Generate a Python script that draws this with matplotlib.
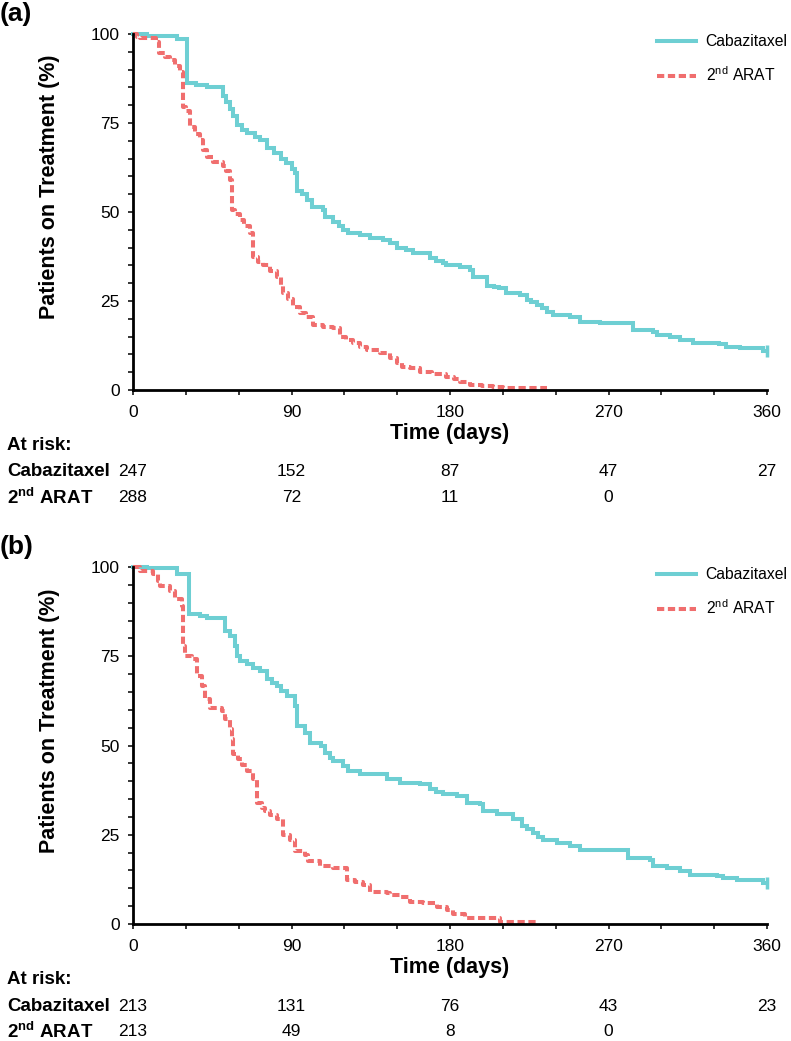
import matplotlib.pyplot as plt
import numpy as np
from matplotlib.ticker import MultipleLocator
import matplotlib.transforms as mtransforms

plt.rcParams['font.family'] = ['Liberation Sans', 'DejaVu Sans']
plt.rcParams['mathtext.fontset'] = 'custom'
plt.rcParams['mathtext.rm'] = 'Liberation Sans'
plt.rcParams['mathtext.bf'] = 'Liberation Sans:bold'

# ---- Panel (a): step points (day, % on treatment)
a_cab_t = [0, 8, 25, 30.5, 36, 42, 51, 53, 55, 57, 59, 62, 65, 69, 72, 76, 80, 84, 87, 90, 92, 93,
           96, 98.6, 101.5, 108, 109, 113.8, 117, 119.4, 122, 129, 134.6, 142, 146, 150, 155, 159,
           168.7, 172, 176, 178, 185.7, 191.4, 193.3, 201, 205, 208, 212, 219.8, 223.6, 226, 229.3,
           232, 235, 238.7, 248, 254, 265, 284, 295.5, 297.4, 305, 310.6, 318, 333, 337, 344.7,
           358, 360]
a_cab_s = [100, 99.5, 98.6, 86.2, 85.6, 85.0, 82.5, 81, 79, 77, 74.5, 73, 72.2, 71.2, 70.2, 68, 66.5,
           65, 63.7, 62, 61, 56, 55, 53.4, 51.4, 50.6, 48.6, 47.2, 46, 45, 44.1, 43.5, 42.7, 42.1,
           41.3, 40, 39.3, 38.4, 37, 36.3, 35.6, 35.1, 34.6, 33.7, 31.8, 29.3, 28.8, 28.6, 27.2,
           26.7, 25.3, 24.6, 23.9, 23, 22, 21.1, 20.6, 19.2, 18.9, 16.9, 16.4, 15.4, 15, 14, 13.1,
           12.9, 12.2, 11.7, 11, 11]
a_arat_t = [0, 2, 4, 13, 15, 18, 21, 24, 26.7, 28.6, 30, 32.4, 35, 38, 40, 41.8, 45.6, 51, 53, 55, 56,
            58, 60.8, 63, 66.4, 68.3, 71, 74, 78, 81.6, 84, 85.4, 88, 91, 94.8, 98, 102.4, 108,
            113.8, 117.5, 121, 125, 129, 132.7, 140, 146, 149.7, 153, 157.3, 163, 170, 178, 182,
            185.7, 191.4, 198, 204.6, 210, 235]
a_arat_s = [100, 99.2, 98.8, 97.8, 94.6, 93.5, 92.7, 91, 89.4, 79.6, 78.5, 74, 72, 70.2, 67.5, 65.5,
            64.1, 63, 61.5, 59, 50.6, 49.5, 47.8, 46, 44, 37.4, 36, 35.1, 33.5, 31.8, 29.5, 27.2,
            25.5, 23.4, 21.5, 20.5, 18.3, 17.6, 17.3, 15, 14, 13.1, 12, 11.2, 10.3, 8.9, 7.5, 6.6,
            6.1, 5.1, 4.6, 3.7, 3, 2.3, 1.4, 1.1, 0.9, 0.5, 0.5]

# ---- Panel (b)
b_cab_t = [0, 8, 25, 31.6, 38, 42, 52, 55, 58, 59, 61, 64.6, 68, 72, 76, 79, 81.6, 84, 87.3, 92, 93,
           97.7, 100.5, 107, 109, 112, 113.8, 119.4, 122.3, 129, 144, 151.6, 163, 168.7, 172, 176,
           183.8, 189.5, 197, 199, 206.6, 216, 220.8, 224, 227.4, 230, 233, 240.6, 248, 254, 281,
           293.6, 295.5, 303, 310.6, 316.3, 331.4, 335.2, 342.8, 358, 360]
b_cab_s = [100, 99.6, 98.0, 86.7, 86.3, 85.6, 82.1, 80.7, 77.8, 75, 73.6, 72.7, 71.8, 70.8, 68.5,
           67.5, 66.6, 65.3, 63.8, 61, 55.4, 53.6, 50.8, 49.8, 48, 46.5, 45.6, 44.2, 42.8, 41.9,
           40.5, 39.5, 39.1, 37.7, 37, 36.3, 35.8, 33.9, 33.5, 31.6, 30.7, 29.4, 27.4, 26.5, 25.5,
           24.5, 23.6, 22.7, 21.8, 20.8, 18.5, 18, 16.2, 15.7, 14.8, 13.8, 13.5, 12.9, 12.4, 11.5,
           11.5]
b_arat_t = [0, 3.8, 11.5, 14.4, 15.3, 21, 23.8, 27.6, 28.6, 29.5, 33.3, 36.2, 39, 40.9, 43.7, 50.4,
            52.2, 55.1, 56, 57, 59.8, 62, 64.6, 68.3, 70.2, 73, 75, 78, 81.6, 85.4, 89.1, 92, 97.7,
            99.6, 106.2, 113.8, 121.3, 126, 130.8, 134.6, 144.1, 145.9, 151.6, 157.3, 164.9, 172.5,
            178.1, 181.9, 188.5, 200.9, 208.4, 229.3]
b_arat_s = [100, 98.9, 98, 96.1, 94.7, 93.3, 90.9, 89.1, 77.8, 75, 74.1, 69.4, 66.6, 62.9, 60.6,
            59.6, 57.3, 54.5, 51.7, 47.5, 46.1, 44.5, 42.8, 40.5, 33.9, 32.5, 31.6, 30.5, 29.3, 25,
            23.6, 20.4, 19.4, 17.6, 16.2, 15.7, 12.4, 11.8, 11, 9.1, 8.7, 8.2, 7.5, 6.3, 5.9, 4.9,
            4, 2.8, 1.7, 1.7, 0.7, 0.7]

risk_days = [0, 90, 180, 270, 360]
a_risk_cab = [247, 152, 87, 47, 27]
a_risk_arat = [288, 72, 11, 0]
b_risk_cab = [213, 131, 76, 43, 23]
b_risk_arat = [213, 49, 8, 0]

CYAN = '#6ECFD3'
RED = '#F06E6E'


def panel(fig, rect, tag, tag_y, cab_t, cab_s, arat_t, arat_s, risk_cab, risk_arat, leg_y):
    ax = fig.add_axes(rect)
    ax.plot(cab_t, cab_s, drawstyle='steps-post', color=CYAN, lw=2.9, clip_on=False,
            solid_joinstyle='miter', label='Cabazitaxel')
    ax.plot(arat_t, arat_s, drawstyle='steps-post', color=RED, lw=2.9, clip_on=False,
            linestyle=(0, (1.8, 0.9)), dash_capstyle='butt', label='2$^{\\rm nd}$ ARAT')
    # censor mark at end of follow-up
    ax.plot([cab_t[-1]], [cab_s[-1]], marker='|', ms=8, mew=2.5, color=CYAN, clip_on=False)

    ax.set_xlim(0, 360)
    ax.set_ylim(0, 100)
    ax.xaxis.set_major_locator(MultipleLocator(90))
    ax.xaxis.set_minor_locator(MultipleLocator(30))
    ax.yaxis.set_major_locator(MultipleLocator(25))
    ax.yaxis.set_minor_locator(MultipleLocator(5))
    ax.tick_params(which='both', direction='out', length=3.5, width=1.1, labelsize=12.5)
    ax.tick_params(axis='x', which='both', pad=7)
    ax.tick_params(axis='y', which='both', pad=6)
    for s in ['top', 'right']:
        ax.spines[s].set_visible(False)
    for s in ['left', 'bottom']:
        ax.spines[s].set_linewidth(2.0)

    ax.set_ylabel('Patients on Treatment (%)', fontsize=15.5, fontweight='bold')
    ax.yaxis.set_label_coords(-0.115, 0.57)
    ax.set_xlabel('Time (days)', fontsize=15.5, fontweight='bold')
    ax.xaxis.set_label_coords(0.5, -0.123)
    ax.xaxis.label.set_va('center')

    ax.legend(loc='upper left', bbox_to_anchor=(657 / 791, leg_y), bbox_transform=fig.transFigure,
              frameon=False, fontsize=11.3, handlelength=2.5, handletextpad=0.6, labelspacing=1.05,
              borderaxespad=0, borderpad=0)

    trans = mtransforms.blended_transform_factory(ax.transData, ax.transAxes)
    ax.text(-0.199, -0.155, 'At risk:', transform=ax.transAxes, fontsize=13.5, fontweight='bold',
            ha='left', va='center')
    ax.text(-0.199, -0.23, 'Cabazitaxel', transform=ax.transAxes, fontsize=13.5, fontweight='bold',
            ha='left', va='center')
    ax.text(-0.199, -0.302, '2$^{\\mathbf{nd}}$ ARAT', transform=ax.transAxes, fontsize=13.5,
            fontweight='bold', ha='left', va='center')
    for d, n in zip(risk_days, risk_cab):
        ax.text(d, -0.23, str(n), transform=trans, fontsize=12.5, ha='center', va='center')
    for d, n in zip(risk_days, risk_arat):
        ax.text(d, -0.302, str(n), transform=trans, fontsize=12.5, ha='center', va='center')

    fig.text(0.0, tag_y, tag, fontsize=19, fontweight='bold', ha='left', va='center')
    return ax


fig = plt.figure(figsize=(7.91, 10.41), dpi=100)
W, H = 791, 1041
panel(fig, [133 / W, (H - 390) / H, 634 / W, 356 / H], '(a)', (H - 14) / H,
      a_cab_t, a_cab_s, a_arat_t, a_arat_s, a_risk_cab, a_risk_arat, (H - 34) / H)
panel(fig, [133 / W, (H - 924) / H, 634 / W, 357 / H], '(b)', (H - 547) / H,
      b_cab_t, b_cab_s, b_arat_t, b_arat_s, b_risk_cab, b_risk_arat, (H - 567) / H)

fig.savefig('out.png', dpi=100)
